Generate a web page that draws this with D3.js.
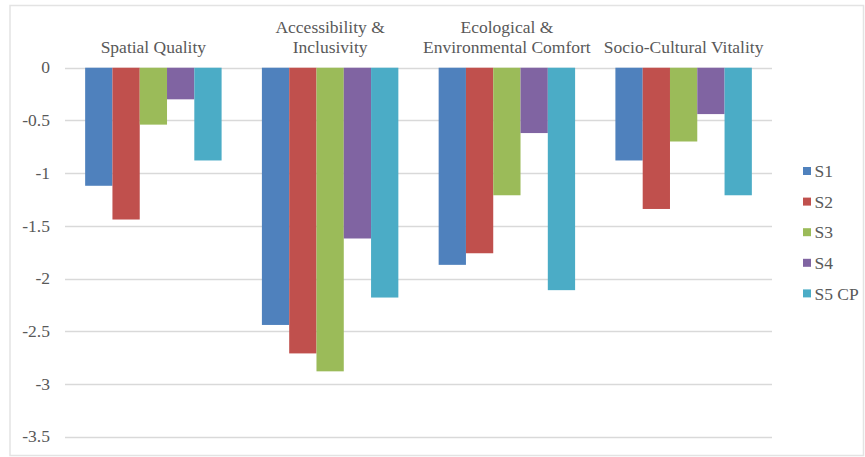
<!DOCTYPE html>
<html>
<head>
<meta charset="utf-8">
<script src="https://cdn.jsdelivr.net/npm/d3@7"></script>
<style>
  html, body { margin: 0; padding: 0; background: #fff; }
  svg { display: block; }
  text { font-family: "Liberation Serif", "Times New Roman", serif; fill: #595959; }
</style>
</head>
<body>
<svg id="chart" width="865" height="457"></svg>
<script>
// Category names (line breaks as drawn above each group)
const categories = [
  "Spatial Quality",
  "Accessibility &\nInclusivity",
  "Ecological &\nEnvironmental Comfort",
  "Socio-Cultural Vitality"
];
const seriesNames = ["S1", "S2", "S3", "S4", "S5 CP"];
const seriesColors = ["#4f81bd", "#c0504d", "#9bbb59", "#8064a2", "#4bacc6"];

// Values per series, one entry per category
const s1 = [-1.12, -2.44, -1.87, -0.88];
const s2 = [-1.44, -2.71, -1.76, -1.34];
const s3 = [-0.54, -2.88, -1.21, -0.70];
const s4 = [-0.30, -1.62, -0.62, -0.44];
const s5 = [-0.88, -2.18, -2.11, -1.21];
const seriesValues = [s1, s2, s3, s4, s5];

const yTicks = [0, -0.5, -1, -1.5, -2, -2.5, -3, -3.5];

const svg = d3.select("#chart");
const fontSize = 17.5;

// Outer chart frame
svg.append("rect")
  .attr("x", 10).attr("y", 5.5)
  .attr("width", 853.5).attr("height", 450)
  .attr("fill", "#fff")
  .attr("stroke", "#e3e3e3")
  .attr("stroke-width", 1.5);

const plot = { left: 65, right: 772, top: 67.7, bottom: 436.7 };

const y = d3.scaleLinear().domain([-3.5, 0]).range([plot.bottom, plot.top]);
const x0 = d3.scaleBand().domain(categories).range([plot.left, plot.right]).padding(0);
const gap = x0.bandwidth() * 0.114;
const x1 = d3.scaleBand().domain(seriesNames).range([gap, x0.bandwidth() - gap]).padding(0);

// Horizontal gridlines
svg.append("g")
  .selectAll("line")
  .data(yTicks)
  .join("line")
  .attr("x1", plot.left).attr("x2", plot.right)
  .attr("y1", d => Math.round(y(d)) + 0.5)
  .attr("y2", d => Math.round(y(d)) + 0.5)
  .attr("stroke", "#d9d9d9")
  .attr("stroke-width", 1.5);

// Y tick labels
svg.append("g")
  .selectAll("text")
  .data(yTicks)
  .join("text")
  .attr("x", 50)
  .attr("y", d => y(d))
  .attr("dy", "0.33em")
  .attr("text-anchor", "end")
  .attr("font-size", fontSize)
  .text(d => d3.format("")(d).replace("−", "-"));

// Bars
const groups = svg.append("g")
  .selectAll("g")
  .data(categories)
  .join("g")
  .attr("transform", c => `translate(${x0(c)},0)`);

groups.selectAll("rect")
  .data((c, ci) => seriesNames.map((s, si) => ({ s, si, v: seriesValues[si][ci] })))
  .join("rect")
  .attr("x", d => x1(d.s))
  .attr("width", x1.bandwidth())
  .attr("y", d => y(Math.max(0, d.v)))
  .attr("height", d => Math.abs(y(d.v) - y(0)))
  .attr("fill", d => seriesColors[d.si]);

// Category labels above the plot
const catLabels = svg.append("g")
  .selectAll("text")
  .data(categories)
  .join("text")
  .attr("text-anchor", "middle")
  .attr("font-size", fontSize)
  .attr("x", c => x0(c) + x0.bandwidth() / 2);

catLabels.each(function (c) {
  const lines = c.split("\n");
  const sel = d3.select(this);
  lines.forEach((ln, i) => {
    const lineY = 47.7 - (lines.length - 1 - i) * 20.7;
    sel.append("tspan")
      .attr("x", x0(c) + x0.bandwidth() / 2)
      .attr("y", lineY)
      .attr("dy", "0.33em")
      .text(ln);
  });
});

// Legend
const legend = svg.append("g")
  .selectAll("g")
  .data(seriesNames)
  .join("g")
  .attr("transform", (d, i) => `translate(803, ${171 + i * 30.6})`);

legend.append("rect")
  .attr("x", 0).attr("y", -4)
  .attr("width", 8).attr("height", 8)
  .attr("fill", (d, i) => seriesColors[i]);

legend.append("text")
  .attr("x", 11.5)
  .attr("y", 0)
  .attr("dy", "0.35em")
  .attr("font-size", fontSize)
  .text(d => d);
</script>
</body>
</html>
